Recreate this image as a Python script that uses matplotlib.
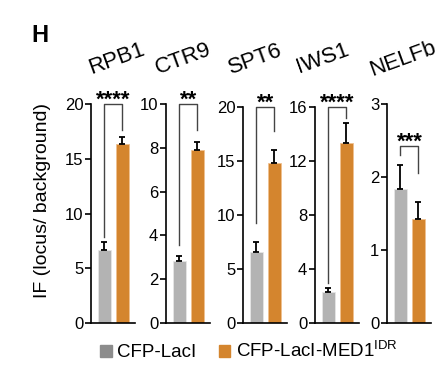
import matplotlib
matplotlib.use("Agg")
import matplotlib.pyplot as plt
from matplotlib.patches import Patch

plt.rcParams["font.family"] = ["Liberation Sans", "DejaVu Sans"]
plt.rcParams["mathtext.fontset"] = "custom"
plt.rcParams["mathtext.rm"] = "Liberation Sans"

genes = ["RPB1", "CTR9", "SPT6", "IWS1", "NELFb"]
ctrl_mean = [6.7, 2.85, 6.6, 2.3, 1.84]
ctrl_err = [0.7, 0.22, 0.9, 0.3, 0.32]
med1_mean = [16.35, 7.9, 14.8, 13.3, 1.42]
med1_err = [0.65, 0.36, 1.2, 1.5, 0.24]
ymax = [20, 10, 20, 16, 3]
ystep = [5, 2, 5, 4, 1]
stars = ["****", "**", "**", "****", "***"]
bracket_top = [20, 10, 20, 16, 2.42]
bracket_left = [7.85, 3.56, 9.3, 3.0, 2.30]
bracket_right = [17.6, 8.8, 17.8, 15.2, 2.06]

gray = "#b3b3b3"
orange = "#d4852e"

W, H = 446, 379
fig = plt.figure(figsize=(W / 100, H / 100), dpi=100)

# panel layout in pixels
ax_left = [91, 166, 243, 315, 387]
ax_top = [104, 104, 107, 107, 104]
ax_bottom = 323
ax_w = 44
title_x = [117, 183, 255, 323, 403]

for i, g in enumerate(genes):
    ax = fig.add_axes([ax_left[i] / W, 1 - ax_bottom / H, ax_w / W, (ax_bottom - ax_top[i]) / H])
    ax.bar(0, ctrl_mean[i], width=0.72, color=gray, edgecolor="#e6e6e6", linewidth=0.6)
    ax.bar(1, med1_mean[i], width=0.72, color=orange, edgecolor="#f0c090", linewidth=0.6)
    ax.errorbar([0, 1], [ctrl_mean[i], med1_mean[i]], yerr=[[0, 0], [ctrl_err[i], med1_err[i]]],
                fmt="none", ecolor="black", elinewidth=1.3, capsize=2.5, capthick=1.3)
    ax.plot([0, 0, 1, 1], [bracket_left[i], bracket_top[i], bracket_top[i], bracket_right[i]],
            color="#444444", lw=1.0, clip_on=False)
    ax.annotate(stars[i], xy=(0.5, bracket_top[i]), xytext=(0, -1), textcoords="offset points",
                ha="center", va="baseline", fontsize=16, fontweight="bold", annotation_clip=False)
    ax.set_xlim(-0.75, 1.7)
    ax.set_ylim(0, ymax[i])
    ax.set_yticks([ystep[i] * k for k in range(int(ymax[i] / ystep[i]) + 1)])
    ax.set_xticks([])
    for s in ["top", "right"]:
        ax.spines[s].set_visible(False)
    for s in ["left", "bottom"]:
        ax.spines[s].set_linewidth(1.2)
    ax.tick_params(axis="y", length=4, width=1.2, pad=1.5, labelsize=12)
    fig.text(title_x[i] / W, 1 - 59 / H, g, rotation=20, ha="center", va="center", fontsize=16,
             rotation_mode="anchor")

fig.text(40 / W, 1 - 36 / H, "H", fontsize=17, fontweight="bold", ha="center", va="center")
fig.text(43 / W, 1 - 200 / H, "IF (locus/ background)", rotation=90, ha="center", va="center", fontsize=14)

handles = [Patch(color="#8c8c8c", label="CFP-LacI"),
           Patch(color=orange, label=r"CFP-LacI-MED1$^{\mathrm{IDR}}$")]
fig.legend(handles=handles, loc="center", bbox_to_anchor=(249 / W, 1 - 351 / H), ncol=2, frameon=False,
           fontsize=13.5, handlelength=0.6, handleheight=0.6, handletextpad=0.3, columnspacing=1.2)

fig.savefig("out.png", dpi=100)
